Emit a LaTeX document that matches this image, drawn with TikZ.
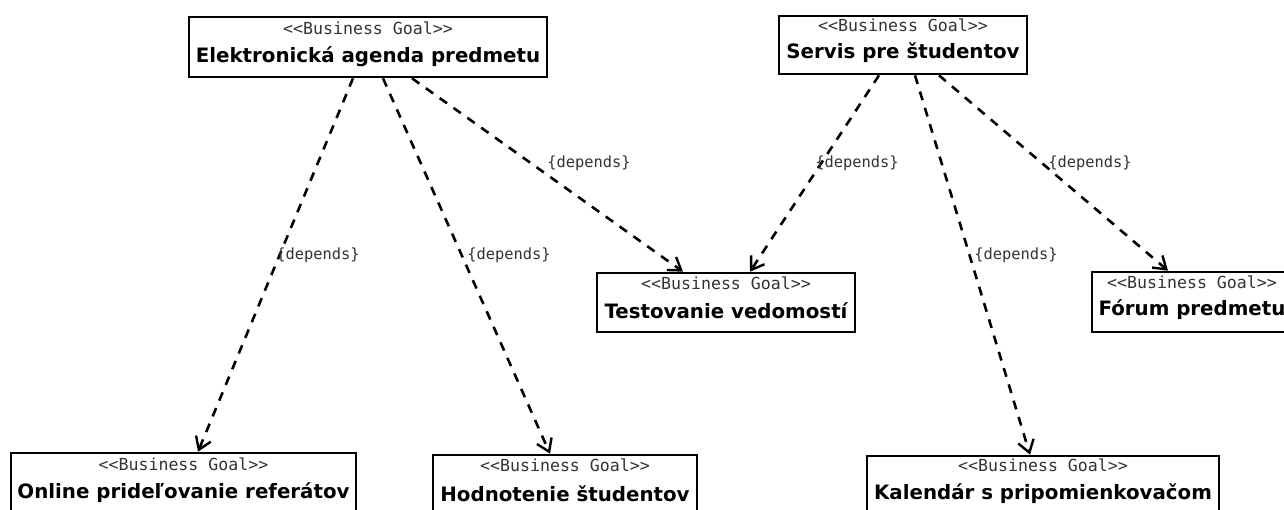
\documentclass[tikz,border=0pt]{standalone}
\usepackage{fontspec}
\usetikzlibrary{arrows.meta}
\newfontfamily\stfont{DejaVu Sans Mono}[Ligatures=TeXOff]
\newfontfamily\ttlfont{DejaVu Sans}[Ligatures=TeXOff]
\begin{document}
\begin{tikzpicture}[x=1pt,y=-1pt,
  goal/.style={draw=black, line width=2.6pt, fill=white, inner sep=0pt},
  stereo/.style={inner sep=0pt, font=\stfont\fontsize{16.6}{20}\selectfont, text=black!80},
  ttl/.style={inner sep=0pt, font=\ttlfont\bfseries\fontsize{19.8}{22}\selectfont, text=black},
  deplbl/.style={inner sep=0pt, font=\stfont\fontsize{15.4}{18}\selectfont, text=black!80},
  dep/.style={line width=2.6pt, dash pattern=on 9pt off 8pt, -{Straight Barb[length=12pt,width=16pt,line width=2.4pt]}}
]
\path[use as bounding box, clip] (0,0) rectangle (1284,510);
\fill[white] (0,0) rectangle (1284,510);

% boxes
\node[goal, minimum width=358pt, minimum height=60pt] (e) at (368,47) {};
\node[stereo] (e-st) at ([yshift=-13pt]e.north) {<<Business Goal>>};
\node[ttl] (e-ti) at ([yshift=-41pt]e.north) {Elektronická agenda predmetu};

\node[goal, minimum width=248pt, minimum height=58pt] (s) at (903,45) {};
\node[stereo] (s-st) at ([yshift=-11pt]s.north) {<<Business Goal>>};
\node[ttl] (s-ti) at ([yshift=-38pt]s.north) {Servis pre študentov};

\node[goal, minimum width=258pt, minimum height=59pt] (t) at (726,302.5) {};
\node[stereo] (t-st) at ([yshift=-12pt]t.north) {<<Business Goal>>};
\node[ttl] (t-ti) at ([yshift=-39pt]t.north) {Testovanie vedomostí};

\node[goal, minimum width=200pt, minimum height=60pt] (f) at (1192,302) {};
\node[stereo] (f-st) at ([yshift=-12pt]f.north) {<<Business Goal>>};
\node[ttl] (f-ti) at ([yshift=-39pt]f.north) {Fórum predmetu};

\node[goal, minimum width=345pt, minimum height=60pt] (o) at (183.5,483) {};
\node[stereo] (o-st) at ([yshift=-13pt]o.north) {<<Business Goal>>};
\node[ttl] (o-ti) at ([yshift=-41pt]o.north) {Online prideľovanie referátov};

\node[goal, minimum width=264pt, minimum height=60pt] (h) at (565,485) {};
\node[stereo] (h-st) at ([yshift=-12pt]h.north) {<<Business Goal>>};
\node[ttl] (h-ti) at ([yshift=-40pt]h.north) {Hodnotenie študentov};

\node[goal, minimum width=352pt, minimum height=60pt] (k) at (1043,486) {};
\node[stereo] (k-st) at ([yshift=-11pt]k.north) {<<Business Goal>>};
\node[ttl] (k-ti) at ([yshift=-39pt]k.north) {Kalendár s pripomienkovačom};

% dependencies
\draw[dep] ([xshift=-15pt]e.south) -- ([xshift=14.5pt]o.north);
\draw[dep] ([xshift=15pt]e.south) -- ([xshift=-15pt]h.north);
\draw[dep] ([xshift=44pt]e.south) -- ([xshift=-43pt]t.north);
\draw[dep] ([xshift=-24pt]s.south) -- ([xshift=24pt]t.north);
\draw[dep] ([xshift=12pt]s.south) -- ([xshift=-13pt]k.north);
\draw[dep] ([xshift=36pt]s.south) -- ([xshift=-24pt]f.north);

% labels
\node[deplbl] (l1) at (589,163) {\{depends\}};
\node[deplbl] (l2) at (318,255) {\{depends\}};
\node[deplbl] (l3) at (509,255) {\{depends\}};
\node[deplbl] (l4) at (857,163) {\{depends\}};
\node[deplbl] (l5) at (1090,163) {\{depends\}};
\node[deplbl] (l6) at (1016,255) {\{depends\}};
\end{tikzpicture}
\end{document}
